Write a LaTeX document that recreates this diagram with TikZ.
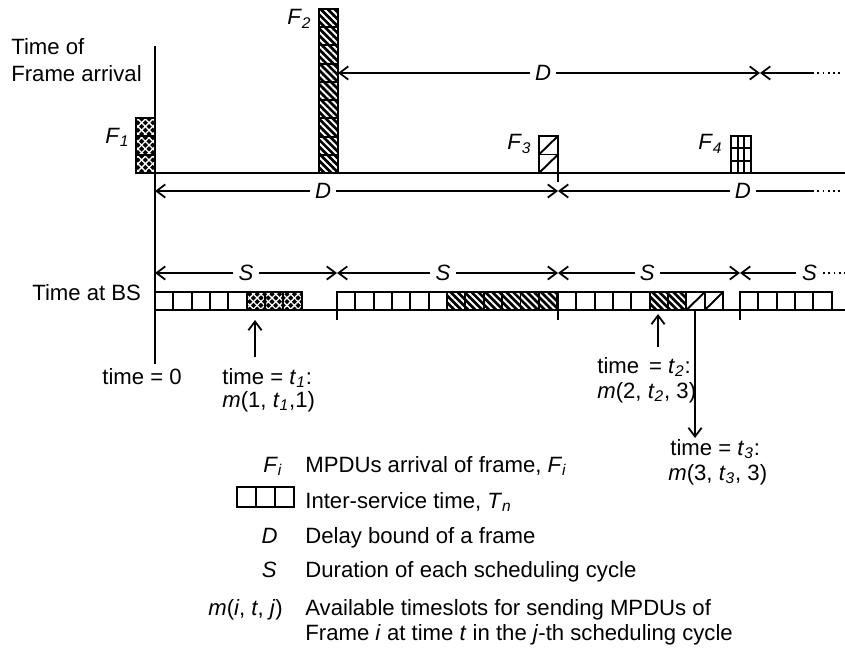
\documentclass[tikz,border=0pt]{standalone}
\usepackage{fontspec}
\setmainfont{Liberation Sans}
\usetikzlibrary{arrows.meta,patterns.meta}
\newcommand{\sy}[2]{\textit{#1}\textsubscript{\textit{#2}}}
\tikzset{
  axis/.style={draw=black, line width=1.2pt},
  dim/.style={draw=black, line width=1pt, >={Straight Barb[length=5pt,width=7.5pt]}},
  dots/.style={draw=black, line width=1pt, dash pattern=on 1pt off 2pt},
  lbl/.style={fill=white, inner xsep=3pt, inner ysep=1pt},
  txt/.style={inner sep=0pt},
  cell/.style={draw=black, line width=1.1pt, fill=white},
  xcell/.style={draw=black, line width=1.1pt,
    preaction={fill=black},
    preaction={pattern={Lines[angle=45,distance=3pt,line width=0.75pt]}, pattern color=white},
    preaction={pattern={Lines[angle=-45,distance=3pt,line width=0.75pt]}, pattern color=white}},
  dcell/.style={draw=black, line width=1.1pt,
    preaction={fill=black},
    preaction={pattern={Lines[angle=-45,distance=2.8pt,line width=1.1pt]}, pattern color=white}}
}

\begin{document}
\begin{tikzpicture}[x=0.02cm, y=-0.02cm, font=\fontsize{12.6}{14.2}\selectfont]
  \useasboundingbox (0,0) rectangle (845,652);

  % frame arrivals
  \foreach \k in {0,1,2} \draw[xcell] (136,{118+\k*18.33}) rectangle ++(19,18.33);
  \foreach \k in {0,...,8} \draw[dcell] (319,{9+\k*18.22}) rectangle ++(19,18.22);
  \foreach \k in {0,1} {
    \draw[cell] (539,{136+\k*18.5}) rectangle ++(19,18.5);
    \draw[line width=1.1pt] (539,{154.5+\k*18.5}) -- ++(19,-18.5);
  }
  \draw[cell] (731,136) rectangle (751,173);
  \draw[line width=1.1pt] (737.7,136) -- (737.7,173) (744.3,136) -- (744.3,173)
    (731,148.3) -- (751,148.3) (731,160.7) -- (751,160.7);

  \node[txt, anchor=base west] (f1) at (105,143) {\sy{F}{1}};
  \node[txt, anchor=base west] (f2) at (287,25) {\sy{F}{2}};
  \node[txt, anchor=base west] (f3) at (507,150) {\sy{F}{3}};
  \node[txt, anchor=base west] (f4) at (698,150) {\sy{F}{4}};

  % service slots at BS
  \foreach \k in {0,...,4} \draw[cell] ({155+\k*18.35},292) rectangle ++(18.35,18);
  \foreach \k in {5,6,7} \draw[xcell] ({155+\k*18.35},292) rectangle ++(18.35,18);
  \foreach \k in {0,...,5} \draw[cell] ({337+\k*18.35},292) rectangle ++(18.35,18);
  \foreach \k in {6,...,11} \draw[dcell] ({337+\k*18.35},292) rectangle ++(18.35,18);
  \foreach \k in {0,...,4} \draw[cell] ({558+\k*18.35},292) rectangle ++(18.35,18);
  \foreach \k in {5,6} \draw[dcell] ({558+\k*18.35},292) rectangle ++(18.35,18);
  \foreach \k in {7,8} {
    \draw[cell] ({558+\k*18.35},292) rectangle ++(18.35,18);
    \draw[line width=1.1pt] ({558+\k*18.35},310) -- ++(18.35,-18);
  }
  \foreach \k in {0,...,4} \draw[cell] ({740+\k*18.35},292) rectangle ++(18.35,18);

  % axes
  \coordinate (v0) at (155,46);
  \coordinate (v1) at (155,364);
  \coordinate (fa0) at (136,173);
  \coordinate (fa1) at (845,173);
  \coordinate (bs0) at (155,310);
  \coordinate (bs1) at (845,310);
  \draw[axis] (v0) -- (v1);
  \draw[axis] (fa0) -- (fa1);
  \draw[axis] (bs0) -- (bs1);
  \coordinate (k0a) at (558,173);
  \coordinate (k0b) at (558,182);
  \coordinate (k1a) at (337,310);
  \coordinate (k1b) at (337,320);
  \coordinate (k2a) at (558,310);
  \coordinate (k2b) at (558,320);
  \coordinate (k3a) at (740,310);
  \coordinate (k3b) at (740,320);
  \draw[axis] (k0a) -- (k0b);
  \draw[axis] (k1a) -- (k1b);
  \draw[axis] (k2a) -- (k2b);
  \draw[axis] (k3a) -- (k3b);

  \node[txt, anchor=base west] (tfa1) at (11,55) {Time of};
  \node[txt, anchor=base west] (tfa2) at (11,82) {Frame arrival};
  \node[txt, anchor=base west] (tbs) at (32,300) {Time at BS};

  % delay bounds
  \coordinate (da0) at (338,73);
  \coordinate (da1) at (760,73);
  \coordinate (da2) at (812,73);
  \coordinate (da3) at (840,73);
  \draw[dim,<->] (da0) -- node[lbl, pos=0.486] (dA) {\textit{D}} (da1);
  \draw[dim,<-] (da1) -- (da2);
  \draw[dots] (da2) -- (da3);
  \coordinate (db0) at (155,191);
  \coordinate (db1) at (558,191);
  \coordinate (db2) at (812,191);
  \coordinate (db3) at (840,191);
  \draw[dim,<->] (db0) -- node[lbl, pos=0.417] (dB) {\textit{D}} (db1);
  \draw[dim,<-] (db1) -- node[lbl, pos=0.728] (dC) {\textit{D}} (db2);
  \draw[dots] (db2) -- (db3);

  % scheduling cycles
  \coordinate (s0) at (155,273);
  \coordinate (s1) at (337,273);
  \coordinate (s2) at (558,273);
  \coordinate (s3) at (740,273);
  \coordinate (s4) at (796,273);
  \coordinate (s5) at (845,273);
  \draw[dim,<->] (s0) -- node[lbl, pos=0.5] (sA) {\textit{S}} (s1);
  \draw[dim,<->] (s1) -- node[lbl, pos=0.48] (sB) {\textit{S}} (s2);
  \draw[dim,<->] (s2) -- node[lbl, pos=0.49] (sC) {\textit{S}} (s3);
  \draw[dim,<-] (s3) -- (s4) node[lbl, anchor=west] (sD) {\textit{S}};
  \draw[dots] (sD.east) -- (s5);

  % time instants
  \node[txt, anchor=base west] (t0) at (102,384) {time = 0};
  \node[txt, anchor=base west] (t1) at (222,384) {time = \sy{t}{1}:};
  \node[txt, anchor=base west] (m1) at (222,407) {\textit{m}(1, \sy{t}{1},1)};
  \node[txt, anchor=base west] (t2) at (597,373) {time \,= \sy{t}{2}:};
  \node[txt, anchor=base west] (m2) at (597,398) {\textit{m}(2, \sy{t}{2}, 3)};
  \node[txt, anchor=base west] (t3) at (670,455) {time = \sy{t}{3}:};
  \node[txt, anchor=base west] (m3) at (668,480) {\textit{m}(3, \sy{t}{3}, 3)};
  \coordinate (u1a) at (255,357);
  \coordinate (u1b) at (255,320);
  \coordinate (u2a) at (658,347);
  \coordinate (u2b) at (658,314);
  \coordinate (u3a) at (695,310);
  \coordinate (u3b) at (695,438);
  \draw[dim,->] (u1a) -- (u1b);
  \draw[dim,->] (u2a) -- (u2b);
  \draw[dim,->] (u3a) -- (u3b);

  % legend
  \node[txt, anchor=base east] (kF) at (283,472) {\sy{F}{i}};
  \node[txt, anchor=base west] (kFt) at (305,472) {MPDUs arrival of frame, \sy{F}{i}};
  \foreach \k in {0,1,2} \draw[cell] ({237+\k*19},487) rectangle ++(19,20);
  \node[txt, anchor=base west] (kTt) at (305,508) {Inter-service time, \sy{T}{n}};
  \node[txt, anchor=base east] (kD) at (278,543) {\textit{D}};
  \node[txt, anchor=base west] (kDt) at (305,543) {Delay bound of a frame};
  \node[txt, anchor=base east] (kS) at (277,577) {\textit{S}};
  \node[txt, anchor=base west] (kSt) at (305,577) {Duration of each scheduling cycle};
  \node[txt, anchor=base east] (kM) at (283,615) {\textit{m}(\textit{i}, \textit{t}, \textit{j})};
  \node[txt, anchor=base west] (kMt) at (305,615) {Available timeslots for sending MPDUs of};
  \node[txt, anchor=base west] (kMu) at (305,640) {Frame \textit{i} at time \textit{t} in the \textit{j}-th scheduling cycle};
\end{tikzpicture}
\end{document}
